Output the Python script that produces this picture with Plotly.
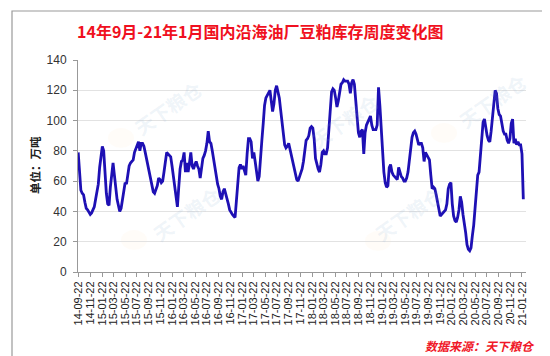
import pandas as pd
import plotly.graph_objects as go

start_date = "2014-09-19"
stock = [
    79, 62, 54, 52, 51, 46, 42, 41, 39, 38,
    39, 41, 43, 48, 52, 58, 69, 76, 83, 80,
    64, 52, 45, 44, 56, 67, 72, 64, 53, 48,
    44, 40, 42, 48, 52, 59, 58, 63, 70, 72,
    73, 74, 79, 81, 84, 86, 80, 85, 85, 83,
    79, 75, 70, 66, 62, 58, 53, 52, 54, 57,
    62, 61, 59, 60, 66, 74, 79, 78, 77, 76,
    70, 63, 55, 47, 43, 56, 68, 73, 74, 79,
    66, 72, 66, 72, 79, 70, 68, 71, 73, 70,
    68, 62, 69, 75, 77, 80, 85, 93, 86, 85,
    80, 74, 70, 61, 58, 55, 50, 48, 53, 55,
    52, 48, 45, 41, 39, 38, 37, 36, 47, 58,
    69, 71, 68, 70, 67, 64, 78, 88, 88, 86,
    75, 79, 73, 66, 60, 63, 78, 87, 98, 110,
    115, 117, 119, 120, 113, 106, 111, 120, 123, 119,
    115, 107, 100, 92, 84, 82, 83, 85, 81, 78,
    74, 71, 66, 61, 60, 63, 66, 68, 73, 82,
    87, 88, 90, 95, 96, 95, 88, 75, 71, 68,
    66, 71, 79, 80, 78, 78, 82, 93, 110, 119,
    121, 120, 115, 109, 113, 120, 124, 125, 127, 126,
    126, 126, 124, 118, 125, 127, 124, 114, 104, 92,
    89, 93, 94, 78, 92, 97, 99, 101, 103, 97,
    94, 94, 94, 97, 122, 110, 92, 79, 66, 59,
    56, 57, 69, 71, 66, 64, 63, 62, 61, 69,
    66, 63, 62, 60, 60, 62, 66, 75, 82, 89,
    92, 93, 91, 87, 84, 85, 85, 82, 73, 79,
    77, 76, 74, 64, 55, 56, 55, 51, 47, 41,
    37, 38, 39, 40, 41, 45, 55, 58, 59, 45,
    37, 34, 33, 36, 41, 50, 46, 38, 33, 26,
    18, 15, 14, 16, 24, 31, 42, 56, 64, 66,
    78, 91, 99, 101, 95, 90, 87, 86, 93, 104,
    114, 120, 118, 108, 104, 103, 98, 93, 91, 91,
    87, 85, 88, 98, 101, 85, 88, 84, 86, 84,
    84, 78, 48,
]
tick_labels = [
    "14-09-22", "14-11-22",
    "15-01-22", "15-03-22", "15-05-22", "15-07-22", "15-09-22", "15-11-22",
    "16-01-22", "16-03-22", "16-05-22", "16-07-22", "16-09-22", "16-11-22",
    "17-01-22", "17-03-22", "17-05-22", "17-07-22", "17-09-22", "17-11-22",
    "18-01-22", "18-03-22", "18-05-22", "18-07-22", "18-09-22", "18-11-22",
    "19-01-22", "19-03-22", "19-05-22", "19-07-22", "19-09-22", "19-11-22",
    "20-01-22", "20-03-22", "20-05-22", "20-07-22", "20-09-22", "20-11-22",
    "21-01-22",
]
y_ticks = [0, 20, 40, 60, 80, 100, 120, 140]

dates = pd.date_range(start_date, periods=len(stock), freq="7D")
tick_vals = [pd.to_datetime("20" + t, format="%Y-%m-%d") for t in tick_labels]

W, H = 550, 356
L, R, T, B = 70, 32, 52, 92
pw, ph = W - L - R, H - T - B


def px(x):
    return (x - L) / pw


def py(y):
    return (H - B - y) / ph


fig = go.Figure()
fig.add_trace(go.Scatter(
    x=dates, y=stock, mode="lines",
    line=dict(color="#1E10B4", width=2.8),
    hoverinfo="x+y", showlegend=False,
))

annotations = [
    dict(text="<b>14年9月-21年1月国内沿海油厂豆粕库存周度变化图</b>",
         x=px(252), y=py(23), xref="paper", yref="paper", showarrow=False,
         xanchor="center", yanchor="middle",
         font=dict(family="Noto Sans CJK SC", size=16, color="#F01020")),
    dict(text="<b>单位：万吨</b>", textangle=-90,
         x=px(27), y=py(157), xref="paper", yref="paper", showarrow=False,
         xanchor="center", yanchor="middle",
         font=dict(family="Noto Sans CJK SC", size=11.5, color="#222222")),
    dict(text="<b><i>数据来源：天下粮仓</i></b>",
         x=px(472), y=py(337), xref="paper", yref="paper", showarrow=False,
         xanchor="center", yanchor="middle",
         font=dict(family="Noto Sans CJK SC", size=12, color="#F01828")),
]
# faint watermarks
for wx, wy in [(160, 100), (178, 205), (336, 112), (484, 92), (400, 205)]:
    annotations.append(dict(
        text="<b>天下粮仓</b>", textangle=-35, x=px(wx), y=py(wy),
        xref="paper", yref="paper", showarrow=False,
        xanchor="center", yanchor="middle",
        font=dict(family="Noto Sans CJK SC", size=19, color="rgba(140,175,210,0.14)")))

shapes = [
    dict(type="rect", xref="paper", yref="paper",
         x0=px(4), x1=px(545), y0=py(350), y1=py(3),
         line=dict(color="#9A9A9A", width=1.2), fillcolor="rgba(0,0,0,0)", layer="below"),
]
for cx, cy in [(113, 130), (126, 232), (436, 125), (370, 233)]:
    shapes.append(dict(type="circle", xref="paper", yref="paper",
                       x0=px(cx - 13), x1=px(cx + 13), y0=py(cy + 10), y1=py(cy - 10),
                       line=dict(width=0), fillcolor="rgba(250,205,120,0.05)", layer="below"))

fig.update_layout(
    width=W, height=H,
    margin=dict(l=L, r=R, t=T, b=B),
    paper_bgcolor="white", plot_bgcolor="white",
    annotations=annotations, shapes=shapes,
    xaxis=dict(
        range=["2014-09-18", "2021-02-12"],
        tickvals=tick_vals, ticktext=tick_labels, tickangle=-90,
        tickfont=dict(family="Arial", size=11, color="#222222"),
        ticks="outside", ticklen=4, tickcolor="#999999",
        showgrid=False, showline=True, linecolor="#999999", linewidth=1,
        zeroline=False,
    ),
    yaxis=dict(
        range=[0, 140], tickvals=y_ticks,
        tickfont=dict(family="Arial", size=12, color="#333333"),
        ticks="outside", ticklen=4, tickcolor="#999999", ticklabelstandoff=4,
        showgrid=True, gridcolor="#E2E2E2", gridwidth=1,
        showline=True, linecolor="#999999", linewidth=1, zeroline=False,
    ),
)

fig.write_html("out.html")
